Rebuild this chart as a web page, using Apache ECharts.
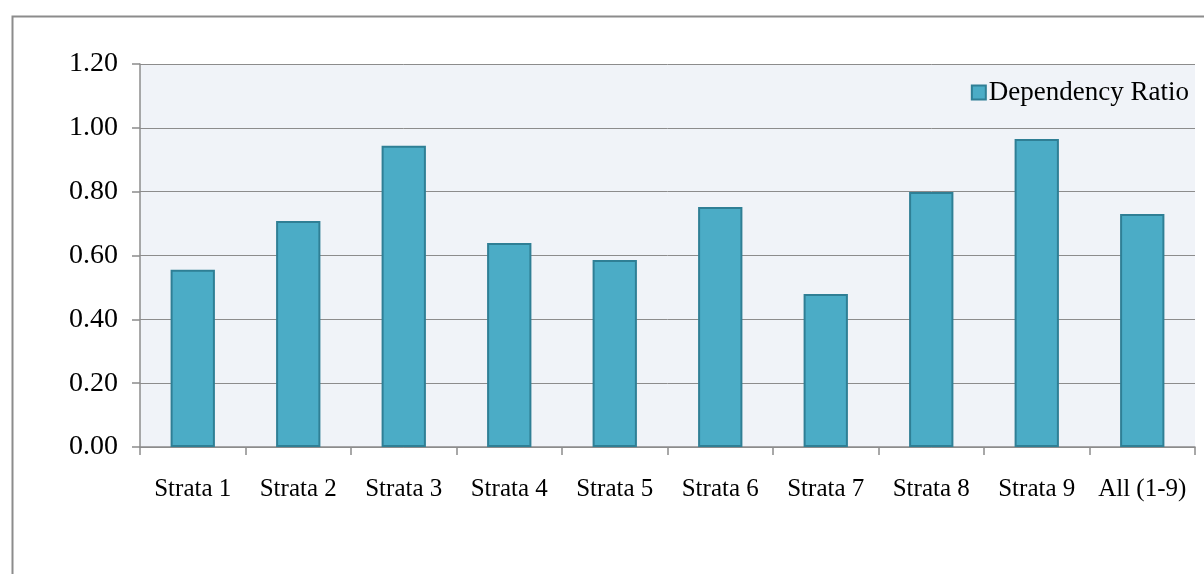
<!DOCTYPE html>
<html>
<head>
<meta charset="utf-8">
<script src="https://cdn.jsdelivr.net/npm/echarts@6/dist/echarts.min.js"></script>
<style>
  html, body { margin: 0; padding: 0; background: #fff; }
  #main { width: 1204px; height: 574px; }
</style>
</head>
<body>
<div id="main"></div>
<script>
var categories = ['Strata 1', 'Strata 2', 'Strata 3', 'Strata 4', 'Strata 5', 'Strata 6', 'Strata 7', 'Strata 8', 'Strata 9', 'All (1-9)'];
var ratioValues = [0.555, 0.708, 0.944, 0.639, 0.586, 0.752, 0.479, 0.799, 0.965, 0.730];
var seriesName = 'Dependency Ratio';

var myChart = echarts.init(document.getElementById('main'));
var font = 'Liberation Serif';

option = {
    backgroundColor: '#fff',
    animation: false,
    // outer frame of the chart area
    graphic: [{
        type: 'rect',
        left: 10,
        top: 14,
        shape: { width: 1300, height: 700 },
        style: { fill: 'none', stroke: '#8c8c8c', lineWidth: 2 },
        silent: true
    }],
    legend: {
        data: [seriesName],
        icon: 'rect',
        right: 10,
        top: 74,
        itemWidth: 14,
        itemHeight: 14,
        itemGap: 4,
        textStyle: { fontFamily: font, fontSize: 27, color: '#000', padding: [0, 0, 0, -2] }
    },
    grid: {
        left: 140,
        right: 9,
        top: 64,
        bottom: 127,
        show: true,
        backgroundColor: '#f0f3f8',
        borderWidth: 0
    },
    xAxis: {
        type: 'category',
        data: categories,
        axisLine: { lineStyle: { color: '#8c8c8c', width: 1.5 } },
        axisTick: { show: true, length: 8, lineStyle: { color: '#8c8c8c', width: 1.5 } },
        axisLabel: { fontFamily: font, fontSize: 25, color: '#000', margin: 30, interval: 0 }
    },
    yAxis: {
        type: 'value',
        min: 0,
        max: 1.2,
        interval: 0.2,
        axisLine: { show: true, lineStyle: { color: '#8c8c8c', width: 1.5 } },
        axisTick: { show: true, length: 8, lineStyle: { color: '#8c8c8c', width: 1.5 } },
        splitLine: { lineStyle: { color: '#8c8c8c', width: 1 } },
        axisLabel: {
            fontFamily: font, fontSize: 28, color: '#000', margin: 22,
            formatter: function (v) { return v.toFixed(2); }
        }
    },
    series: [{
        name: seriesName,
        type: 'bar',
        data: ratioValues,
        barWidth: '42%',
        itemStyle: { color: '#4bacc6', borderColor: '#2f7f95', borderWidth: 2 }
    }]
};
myChart.setOption(option);

window.addEventListener('resize', function () {
    myChart.resize();
});
</script>
</body>
</html>
